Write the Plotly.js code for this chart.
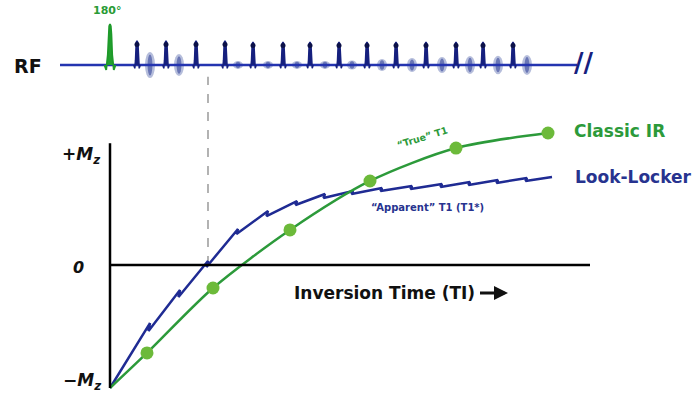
<!DOCTYPE html>
<html>
<head>
<meta charset="utf-8">
<script src="https://cdn.plot.ly/plotly-3.0.1.min.js"></script>
<style>html,body{margin:0;padding:0;background:#fff;}#chart{width:700px;height:398px;}</style>
</head>
<body>
<div id="chart"></div>
<script>
// ---- Data (time in ms, Mz normalised: -1 .. +1) ----
// Classic IR sampled points (first point = start, rest = measured markers)
const IR_t  = [0, 370, 1030, 1800, 2600, 3460, 4380];
const IR_mz = [-1.0, -0.715, -0.187, 0.285, 0.683, 0.951, 1.073];

// Look-Locker: value just before and just after each readout pulse
const LL_start_t = 0, LL_start_mz = -1.0;
const LL_t      = [400, 700, 980, 1280, 1580, 1870, 2150, 2430, 2720, 3020, 3320, 3600, 3880, 4170];
const LL_before = [-0.472, -0.203, 0.033, 0.293, 0.439, 0.520, 0.577, 0.602, 0.626, 0.642, 0.659, 0.675, 0.691, 0.707];
const LL_after  = [-0.537, -0.260, -0.016, 0.252, 0.398, 0.488, 0.545, 0.577, 0.602, 0.618, 0.634, 0.650, 0.667, 0.683];
const LL_end_t = 4420, LL_end_mz = 0.715;

// RF sequence
const RF_start = -500, RF_end = 4670;
const INV_t = [0], INV_amp = [1.78];
const RO_t   = [270, 560, 860, 1150, 1430, 1730, 2000, 2290, 2570, 2860, 3160, 3460, 3730, 4030];
const RO_amp = [1.05, 1.05, 1.05, 1.05, 1.0, 1.0, 1.0, 1.0, 1.0, 1.0, 1.0, 1.0, 1.0, 1.0];
const ECHO_t   = [400, 690, 1280, 1580, 1870, 2150, 2420, 2720, 3020, 3320, 3600, 3880, 4170];
const ECHO_amp = [0.57, 0.48, 0.17, 0.17, 0.17, 0.17, 0.2, 0.26, 0.3, 0.35, 0.39, 0.4, 0.43];

const TI_marker_t = 980;   // dashed null-point marker

// ---- Styles ----
const GREEN = '#2c9a3a', GREEN_M = '#6cba3a', BLUE = '#1f2b93', NAVY = '#16207e';
const FONT = 'DejaVu Sans, Arial, sans-serif';

// pulse templates (style): offsets in ms, relative amplitude
const spikeOff = [-32, -22, -15, -12, -8, 0, 8, 12, 15, 22, 32];
const spikeRel = [0, -0.14, 0.2, 0.7, 0.93, 1, 0.93, 0.7, 0.2, -0.14, 0];
const invOff = [-55, -38, -22, -14, -8, 0, 8, 14, 22, 38, 55];
const invRel = [0, -0.12, 0.25, 0.75, 0.95, 1, 0.95, 0.75, 0.25, -0.12, 0];

function pulses(ts, amps, off, rel) {
  const x = [], y = [];
  ts.forEach((t, i) => {
    off.forEach((o, k) => { x.push(t + o); y.push(amps[i] * rel[k]); });
    x.push(null); y.push(null);
  });
  return {x, y};
}

// Look-Locker path
const llx = [LL_start_t], lly = [LL_start_mz];
LL_t.forEach((t, i) => { llx.push(t, t - 15); lly.push(LL_before[i], LL_after[i]); });
llx.push(LL_end_t); lly.push(LL_end_mz);

const roP = pulses(RO_t, RO_amp, spikeOff, spikeRel);
const invP = pulses(INV_t, INV_amp, invOff, invRel);

const traces = [
  {x: [RF_start, RF_end], y: [0, 0], yaxis: 'y2', mode: 'lines', line: {color: '#2434b0', width: 2.5}, hoverinfo: 'skip'},
  {x: roP.x, y: roP.y, yaxis: 'y2', mode: 'lines', fill: 'toself', fillcolor: NAVY, line: {color: NAVY, width: 1.5}, hoverinfo: 'skip'},
  {x: RO_t, y: RO_amp.map(a => a * 0.85), yaxis: 'y2', mode: 'markers', marker: {color: '#0c1148', size: 5}, hoverinfo: 'skip'},
  {x: invP.x, y: invP.y, yaxis: 'y2', mode: 'lines', fill: 'toself', fillcolor: '#22a02e', line: {color: '#1e9a2a', width: 1.8}, hoverinfo: 'skip'},
  {x: llx, y: lly, mode: 'lines', line: {color: BLUE, width: 2.5}, hoverinfo: 'skip'},
  {x: IR_t, y: IR_mz, mode: 'lines', line: {color: GREEN, width: 2.5, shape: 'spline', smoothing: 0.8}, hoverinfo: 'skip'},
  {x: IR_t.slice(1), y: IR_mz.slice(1), mode: 'markers', marker: {color: GREEN_M, size: 13}, hoverinfo: 'skip'}
];

const shapes = [];
// echo lobes (below traces)
ECHO_t.forEach((t, i) => {
  const a = ECHO_amp[i];
  shapes.push({type: 'circle', xref: 'x', yref: 'y2', x0: t - 50, x1: t + 50, y0: -a, y1: a,
               fillcolor: 'rgba(120,135,190,0.55)', line: {width: 0}, layer: 'below'});
  shapes.push({type: 'circle', xref: 'x', yref: 'y2', x0: t - 24, x1: t + 24, y0: -a * 0.8, y1: a * 0.8,
               fillcolor: 'rgba(55,70,155,0.6)', line: {width: 0}, layer: 'below'});
});
// dashed null line
shapes.push({type: 'line', xref: 'x', yref: 'y', x0: TI_marker_t, x1: TI_marker_t, y0: 0, y1: 1.53,
             line: {color: '#8a8a8a', width: 1.3, dash: 'dash'}, layer: 'below'});
// axes
shapes.push({type: 'line', xref: 'x', yref: 'y', x0: 0, x1: 0, y0: -1.0, y1: 0.99, line: {color: '#000', width: 2.5}});
shapes.push({type: 'line', xref: 'x', yref: 'y', x0: 0, x1: 4800, y0: 0, y1: 0, line: {color: '#000', width: 2.5}});

function ann(text, px, py, opts) {
  return Object.assign({text: text, xref: 'paper', yref: 'paper', x: px / 700, y: 1 - py / 398,
    showarrow: false, xanchor: 'center', yanchor: 'middle'}, opts);
}
const annotations = [
  ann('<b>RF</b>', 28, 66, {font: {family: FONT, size: 19, color: '#111'}}),
  ann('<b>180°</b>', 107, 11, {font: {family: FONT, size: 11, color: '#2a9b35'}}),
  ann('<b><i>+M<sub>z</sub></i></b>', 81, 156, {font: {family: FONT, size: 17, color: '#111'}}),
  ann('<b><i>0</i></b>', 78, 267, {font: {family: FONT, size: 16, color: '#111'}}),
  ann('<b><i>−M<sub>z</sub></i></b>', 82, 381, {font: {family: FONT, size: 17, color: '#111'}}),
  ann('<b>Inversion Time (TI)</b>', 292, 293, {xanchor: 'left', font: {family: FONT, size: 17, color: '#111'}}),
  {text: ' ', xref: 'paper', yref: 'paper', x: 508 / 700, y: 1 - 293 / 398, ax: -31, ay: 0,
   showarrow: true, arrowhead: 2, arrowsize: 1, arrowwidth: 2.8, arrowcolor: '#111', standoff: 0, startstandoff: 0},
  ann('<b>Classic IR</b>', 572, 131, {xanchor: 'left', font: {family: FONT, size: 17, color: GREEN}}),
  ann('<b>Look-Locker</b>', 573, 177, {xanchor: 'left', font: {family: FONT, size: 17, color: '#27338f'}}),
  ann('<b>“True” T1</b>', 422, 137, {textangle: -17, font: {family: FONT, size: 9.5, color: GREEN}}),
  ann('<b>“Apparent” T1 (T1*)</b>', 427, 207, {font: {family: FONT, size: 10, color: '#27338f'}}),
  ann('<b>//</b>', 583, 63, {font: {family: FONT, size: 26, color: NAVY}})
];

const layout = {
  width: 700, height: 398,
  margin: {l: 0, r: 0, t: 0, b: 0},
  paper_bgcolor: '#fff', plot_bgcolor: '#fff',
  showlegend: false,
  xaxis: {range: [-1100, 5900], visible: false, fixedrange: true},
  yaxis: {range: [(265 - 398) / 123, 265 / 123], visible: false, fixedrange: true},
  yaxis2: {range: [(65 - 398) / 23, 65 / 23], overlaying: 'y', visible: false, fixedrange: true},
  shapes: shapes,
  annotations: annotations
};

Plotly.newPlot('chart', traces, layout, {staticPlot: true, displayModeBar: false});
</script>
</body>
</html>
